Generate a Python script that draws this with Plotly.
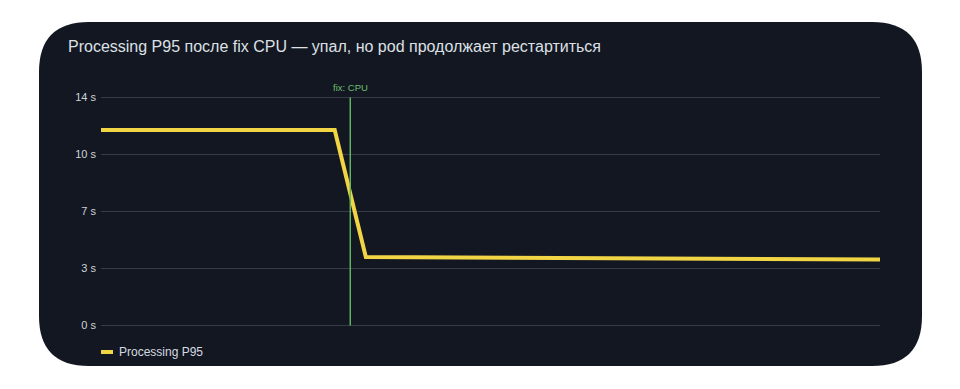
import plotly.graph_objects as go

# ---- data ----
times = [0, 10, 20, 30, 34, 50, 67, 83, 100]
p95_seconds = [12.0, 12.0, 12.0, 12.0, 4.2, 4.17, 4.12, 4.08, 4.05]
fix_time = 32
fix_label = "fix: CPU"
series_name = "Processing P95"
title_text = "Processing P95 после fix CPU — упал, но pod продолжает рестартиться"
y_tickvals = [0, 3.5, 7, 10.5, 14]
y_ticktext = ["0 s", "3 s", "7 s", "10 s", "14 s"]
y_min, y_max = 0, 14

# ---- layout geometry (pixels) ----
W, Hc = 960, 389
ML, MR, MT, MB = 101, 80, 95, 61
PW, PH = W - ML - MR, Hc - MT - MB

def px(x):
    return (x - ML) / PW

def py(y):
    return (Hc - MB - y) / PH

# rounded dark panel
x0, x1, y0, y1, r = 39, 922, 22, 366, 50
path = (
    f"M {px(x0 + r)},{py(y0)} L {px(x1 - r)},{py(y0)} "
    f"Q {px(x1)},{py(y0)} {px(x1)},{py(y0 + r)} "
    f"L {px(x1)},{py(y1 - r)} Q {px(x1)},{py(y1)} {px(x1 - r)},{py(y1)} "
    f"L {px(x0 + r)},{py(y1)} Q {px(x0)},{py(y1)} {px(x0)},{py(y1 - r)} "
    f"L {px(x0)},{py(y0 + r)} Q {px(x0)},{py(y0)} {px(x0 + r)},{py(y0)} Z"
)

LINE_COLOR = "#f2d544"
GREEN = "#5fb562"
FONT = "Liberation Sans, Arial, sans-serif"

fig = go.Figure()
fig.add_trace(go.Scatter(
    x=times, y=p95_seconds, mode="lines", name=series_name,
    line=dict(color=LINE_COLOR, width=4), showlegend=False,
))

shapes = [
    dict(type="path", xref="paper", yref="paper", path=path,
         fillcolor="#121722", line=dict(width=0), layer="below"),
    dict(type="line", xref="x", yref="y", x0=fix_time, x1=fix_time, y0=y_min, y1=y_max,
         line=dict(color=GREEN, width=1.5), layer="above"),
    # legend swatch
    dict(type="rect", xref="paper", yref="paper",
         x0=px(101), x1=px(113), y0=py(354), y1=py(350),
         fillcolor=LINE_COLOR, line=dict(width=0)),
]

annotations = [
    dict(x=fix_time, y=y_max, xref="x", yref="y", text=fix_label, showarrow=False,
         yanchor="bottom", yshift=2, font=dict(size=9.5, color="#6fbf6f", family=FONT)),
    dict(x=px(117), y=py(352), xref="paper", yref="paper", text=series_name,
         showarrow=False, xanchor="left", yanchor="middle",
         font=dict(size=12, color="#d6dae0", family=FONT)),
]

pad = 0.15
fig.update_layout(
    width=W, height=Hc,
    margin=dict(l=ML, r=MR, t=MT, b=MB),
    paper_bgcolor="white",
    plot_bgcolor="rgba(0,0,0,0)",
    title=dict(text=title_text, x=68 / W, xanchor="left", xref="container",
               y=1 - 46 / Hc, yanchor="middle", yref="container",
               font=dict(size=16, color="#dde0e5", family=FONT)),
    xaxis=dict(range=[0, 100], showgrid=False, zeroline=False,
               showticklabels=False, showline=False, ticks=""),
    yaxis=dict(range=[y_min - pad, y_max + pad], tickvals=y_tickvals, ticktext=y_ticktext,
               showgrid=True, gridcolor="#363c47", gridwidth=1,
               zeroline=False, showline=False, ticks="",
               tickfont=dict(size=11, color="#cfd3d8", family=FONT),
               ticklabelstandoff=4),
    shapes=shapes,
    annotations=annotations,
    showlegend=False,
)

fig.write_html("out.html")
